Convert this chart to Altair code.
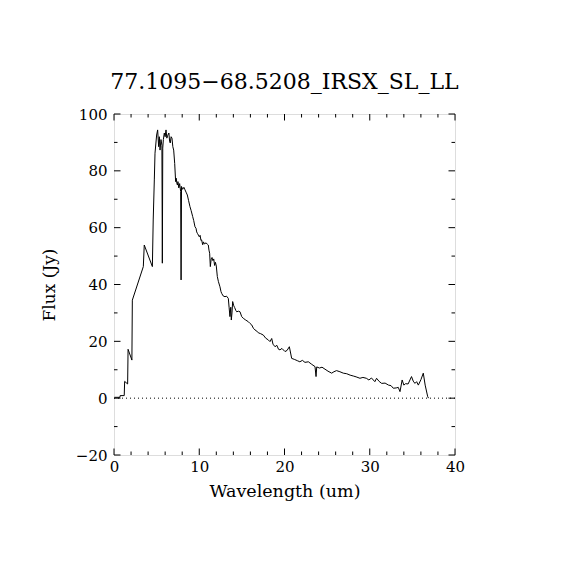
import altair as alt
import pandas as pd

# Spectrum
wavelength = [0.05, 0.7, 0.72, 1.2, 1.25, 1.6, 1.65, 2.1, 2.15, 3.44, 3.55, 4.5, 4.6, 4.73, 4.81,
              5.0, 5.12, 5.24, 5.32, 5.4, 5.51, 5.62, 5.67, 5.72, 5.79, 5.9, 6.0, 6.1, 6.2, 6.3,
              6.44, 6.52, 6.6, 6.7, 6.8, 6.9, 7.0, 7.12, 7.23, 7.3, 7.38, 7.44, 7.5, 7.6, 7.7,
              7.82, 7.87, 7.92, 8.05, 8.2, 8.33, 8.45, 8.6, 8.75, 8.91, 9.05, 9.23, 9.35, 9.5,
              9.62, 9.7, 9.78, 9.9, 10.0, 10.1, 10.2, 10.28, 10.4, 10.5, 10.6, 10.67, 10.8,
              10.95, 11.06, 11.14, 11.22, 11.3, 11.4, 11.5, 11.6, 11.7, 11.8, 11.9, 12.0, 12.12,
              12.25, 12.43, 12.55, 12.63, 12.8, 13.02, 13.2, 13.41, 13.5, 13.6, 13.7, 13.76,
              13.84, 13.92, 14.05, 14.15, 14.3, 14.39, 14.6, 14.78, 14.98, 15.17, 15.4, 15.6,
              15.76, 15.95, 16.15, 16.35, 16.54, 16.75, 16.93, 17.2, 17.52, 17.8, 18.1, 18.3,
              18.5, 18.65, 18.89, 19.1, 19.3, 19.47, 19.7, 20.06, 20.3, 20.57, 20.84, 21.2,
              21.5, 21.8, 22.1, 22.4, 22.8, 23.2, 23.58, 23.7, 23.78, 24.1, 24.4, 24.75, 25.1,
              25.53, 25.8, 26.1, 26.5, 26.9, 27.3, 27.7, 28.07, 28.4, 28.85, 29.2, 29.6, 29.9,
              30.2, 30.6, 30.8, 31.1, 31.4, 31.8, 32.2, 32.5, 32.76, 33.1, 33.35, 33.55, 33.8,
              34.0, 34.2, 34.5, 34.9, 35.1, 35.3, 35.5, 35.7, 36.0, 36.28, 36.5, 36.8, 36.9]
flux = [0.3, 0.3, 0.9, 0.9, 5.9, 5.0, 17.2, 13.4, 34.5, 46.3, 53.9, 46.3, 62.7, 76.8, 86.2,
        92.6, 94.4, 88.5, 92.0, 87.3, 91.0, 89.0, 47.5, 88.0, 91.0, 93.3, 92.0, 94.4, 91.5, 92.5,
        93.3, 90.5, 89.8, 92.0, 91.5, 88.5, 87.3, 82.6, 76.2, 77.4, 75.5, 75.0, 76.2, 74.0, 75.5,
        72.7, 41.6, 74.5, 73.5, 74.2, 73.3, 72.5, 71.5, 69.5, 67.4, 66.0, 63.9, 62.5, 60.3,
        59.8, 58.5, 58.0, 57.4, 56.8, 57.3, 55.5, 55.7, 54.0, 55.0, 54.2, 54.5, 54.6,
        54.2, 53.9, 52.1, 51.0, 46.3, 49.0, 49.5, 48.4, 49.0, 46.7, 47.8, 46.5, 42.8,
        41.0, 39.2, 37.5, 36.9, 36.0, 35.7, 35.9, 35.1, 32.0, 28.7, 32.0, 27.5,
        30.0, 34.0, 32.5, 31.9, 30.8, 30.4, 30.6, 30.4, 28.7, 28.1, 27.6, 27.2,
        26.9, 26.3, 25.8, 24.6, 24.0, 23.6, 23.0, 22.7, 22.2, 21.1, 20.5, 19.9,
        21.0, 19.0, 18.1, 18.6, 17.2, 17.0, 17.5, 16.4, 16.8, 18.1, 14.0, 13.6,
        13.2, 12.8, 13.3, 12.6, 12.8, 11.9, 11.1, 7.6, 11.0, 10.6, 10.9, 10.2, 9.5,
        8.8, 9.3, 9.7, 9.3, 8.8, 8.6, 8.1, 7.8, 7.5, 7.0, 7.3, 7.0, 6.4,
        7.1, 5.8, 7.0, 5.9, 5.2, 5.3, 4.6, 4.4, 3.5, 3.6, 3.8, 2.3, 6.4,
        4.6, 5.1, 5.0, 7.6, 6.0, 5.2, 5.8, 4.6, 6.5, 8.8, 4.6, 0.5, 0.0]

x_major = [0, 10, 20, 30, 40]
x_minor = [2, 4, 6, 8, 12, 14, 16, 18, 22, 24, 26, 28, 32, 34, 36, 38]
y_major = [-20, 0, 20, 40, 60, 80, 100]
y_minor = [-10, 10, 30, 50, 70, 90]
zero_level = [0]

W, H = 341, 341
MAJ, MIN = 6.5, 3.5
FONT = "DejaVu Serif"

xscale = alt.Scale(domain=[0, 40], nice=False, zero=False)
yscale = alt.Scale(domain=[-20, 100], nice=False, zero=False)

spec_df = pd.DataFrame({"w": wavelength, "f": flux})

line = alt.Chart(spec_df).mark_line(color="black", strokeWidth=1, clip=True).encode(
    x=alt.X("w:Q", scale=xscale,
            axis=alt.Axis(values=x_major, ticks=False, domain=False, grid=False,
                          labelFont=FONT, labelFontSize=15, labelColor="black",
                          labelPadding=4, labelFlush=False,
                          title="Wavelength (um)", titleFont=FONT, titleFontSize=17.5,
                          titleFontWeight="normal", titleColor="black", titlePadding=8)),
    y=alt.Y("f:Q", scale=yscale,
            axis=alt.Axis(values=y_major, ticks=False, domain=False, grid=False,
                          labelFont=FONT, labelFontSize=15, labelColor="black",
                          labelPadding=7, labelFlush=False,
                          title="Flux (Jy)", titleFont=FONT, titleFontSize=17,
                          titleFontWeight="normal", titleColor="black", titlePadding=17)),
)

zero = alt.Chart(pd.DataFrame({"z": zero_level})).mark_rule(
    color="black", strokeWidth=1, strokeDash=[1, 3]).encode(
    y=alt.Y("z:Q", scale=yscale))

def xticks(vals, length, top):
    d = pd.DataFrame({"t": vals})
    if top:
        enc = dict(y=alt.value(0), y2=alt.value(length))
    else:
        enc = dict(y=alt.value(H), y2=alt.value(H - length))
    return alt.Chart(d).mark_rule(color="black", strokeWidth=1).encode(
        x=alt.X("t:Q", scale=xscale), **enc)

def yticks(vals, length, right):
    d = pd.DataFrame({"t": vals})
    if right:
        enc = dict(x=alt.value(W), x2=alt.value(W - length))
    else:
        enc = dict(x=alt.value(0), x2=alt.value(length))
    return alt.Chart(d).mark_rule(color="black", strokeWidth=1).encode(
        y=alt.Y("t:Q", scale=yscale), **enc)

ticks = [
    xticks(x_major, MAJ, False), xticks(x_major, MAJ, True),
    xticks(x_minor, MIN, False), xticks(x_minor, MIN, True),
    yticks(y_major, MAJ, False), yticks(y_major, MAJ, True),
    yticks(y_minor, MIN, False), yticks(y_minor, MIN, True),
]

chart = alt.layer(line, zero, *ticks).properties(
    width=W, height=H,
    title=alt.TitleParams("77.1095\u221268.5208_IRSX_SL_LL", font=FONT, fontSize=22,
                          fontWeight="normal", color="black", baseline="alphabetic",
                          offset=-4, anchor="middle"),
    autosize=alt.AutoSizeParams(type="none"),
    padding={"left": 106, "top": 106, "right": 100, "bottom": 100},
).configure_view(stroke="black", strokeWidth=1).configure(background="white")

chart.save("out.html", embed_options={"renderer": "svg", "actions": False})
